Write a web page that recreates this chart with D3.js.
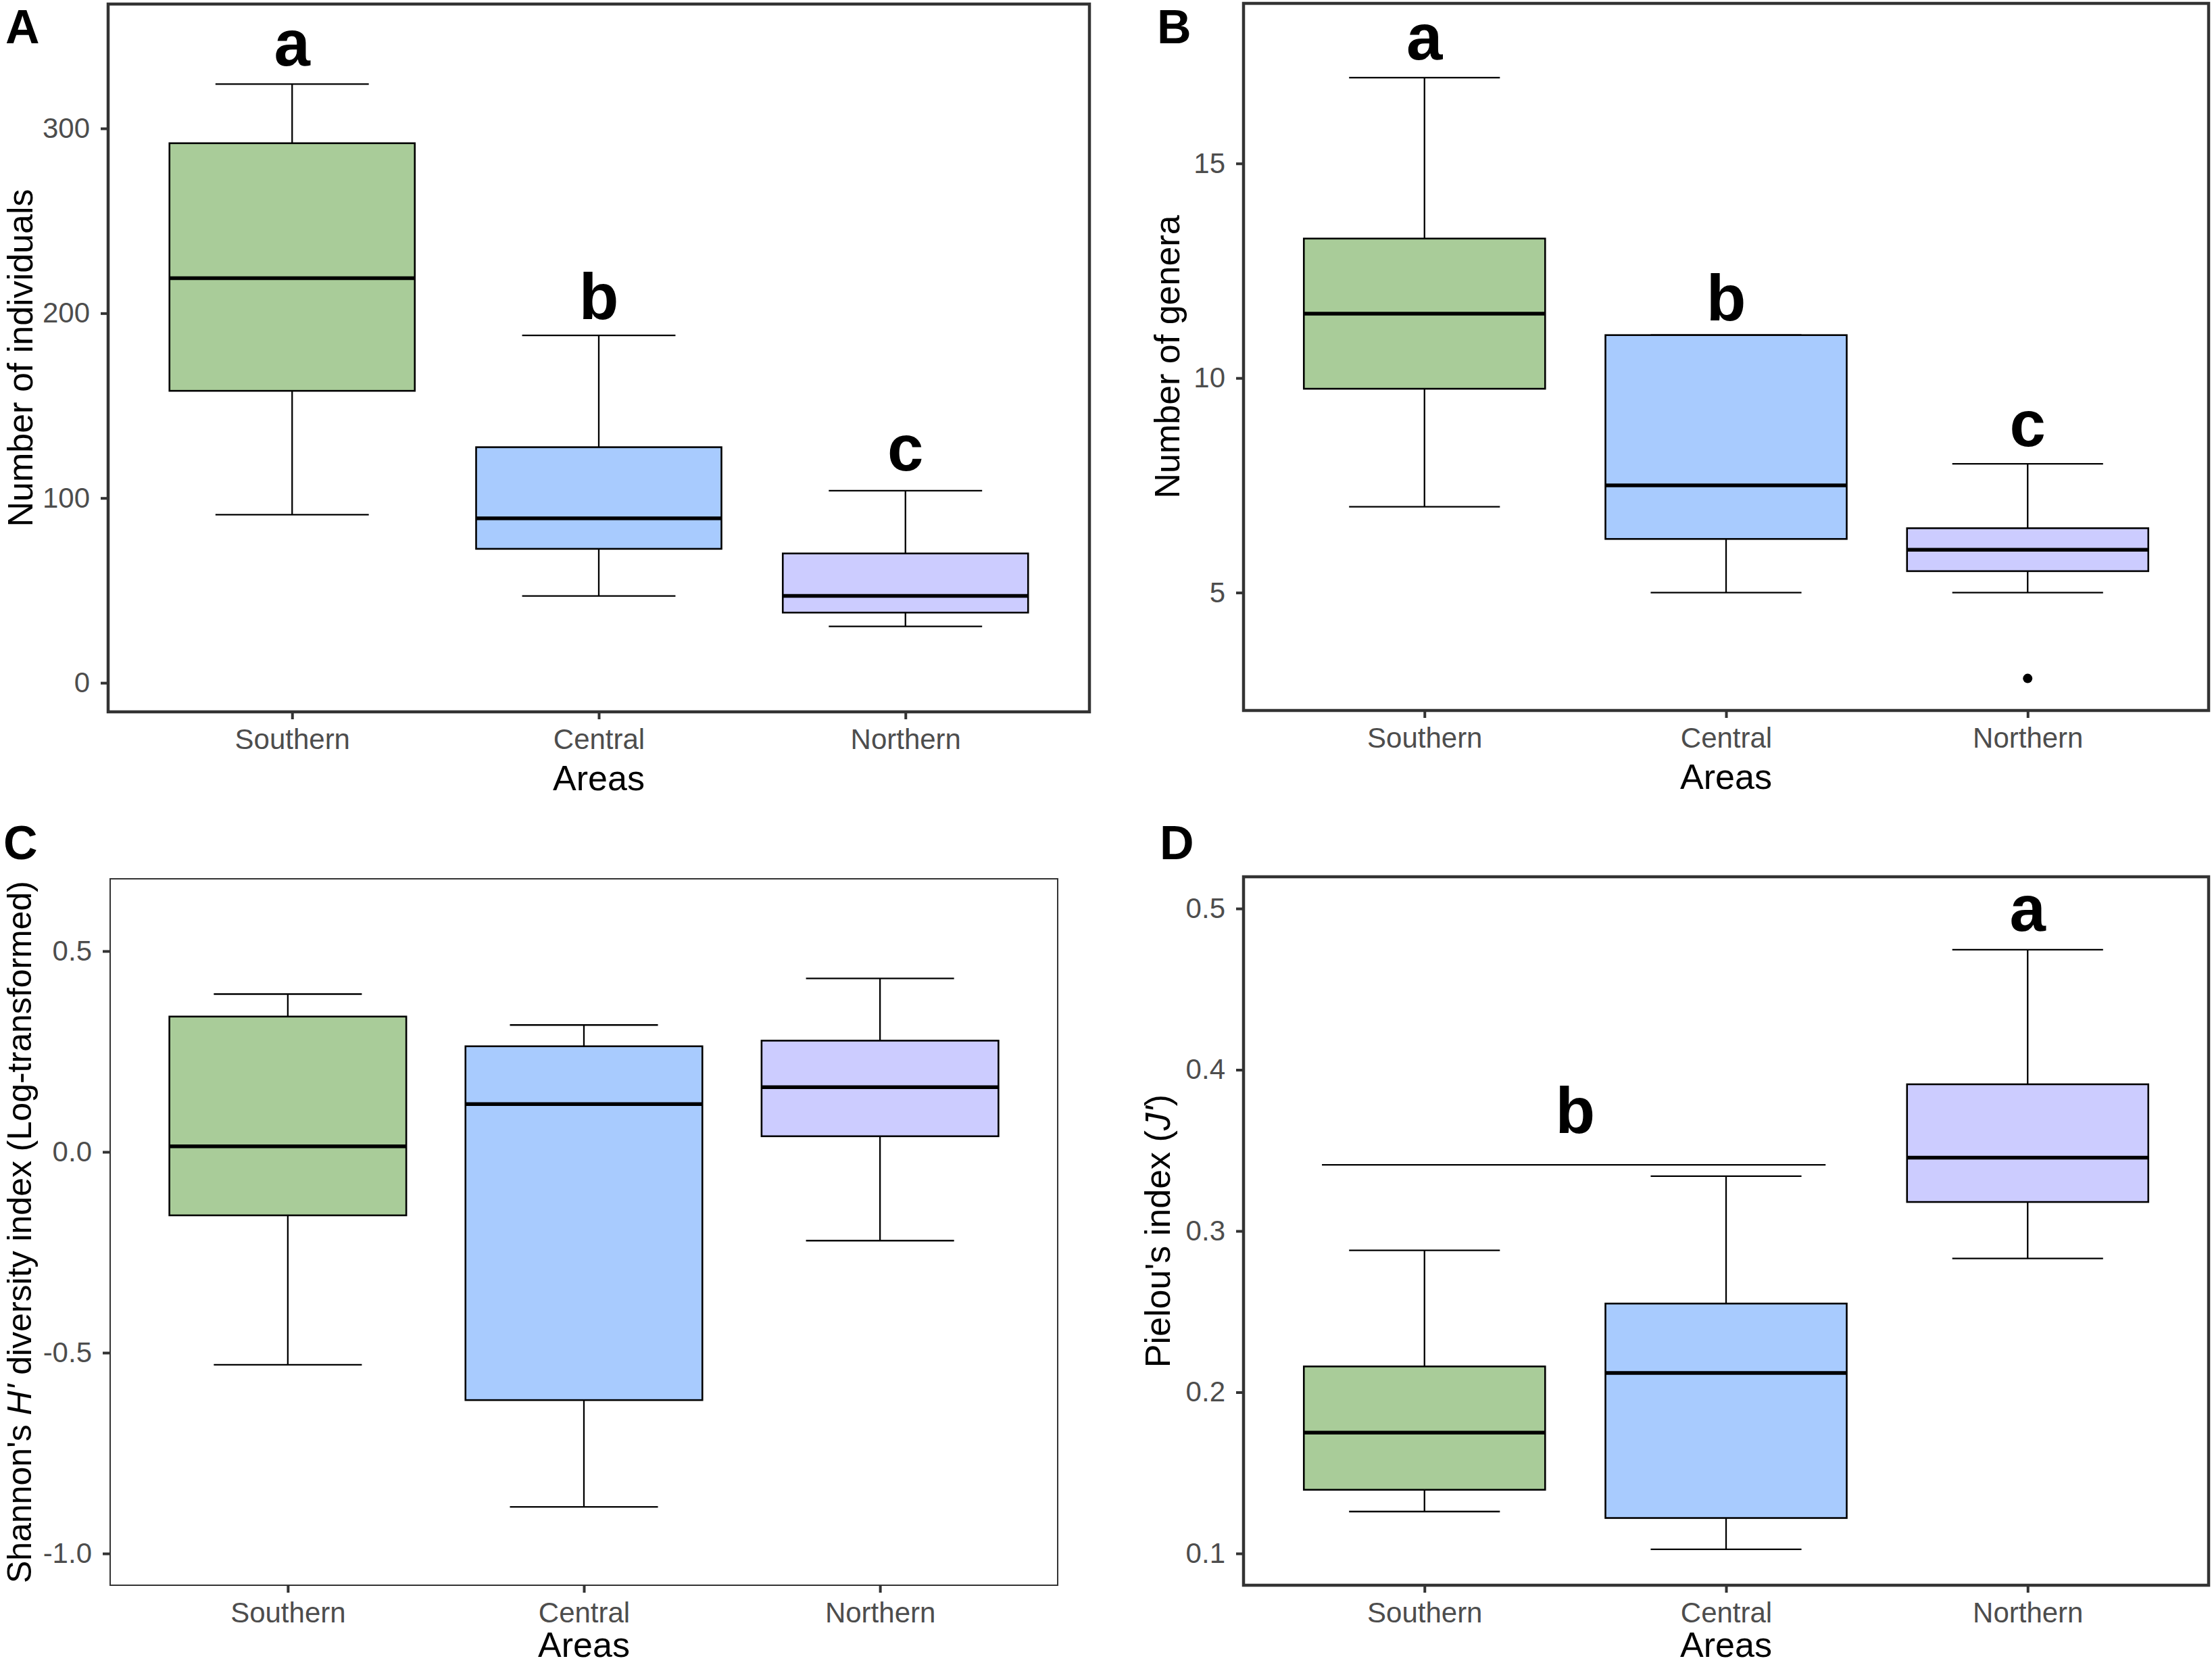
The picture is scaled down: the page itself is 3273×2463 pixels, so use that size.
<!DOCTYPE html>
<html><head><meta charset="utf-8">
<script src="https://cdn.jsdelivr.net/npm/d3@7"></script>
<style>html,body{margin:0;padding:0;background:#fff;} svg{display:block;}</style>
</head><body><svg id="chart" width="3273" height="2463"></svg>
<script>
// ---------------- DATA ----------------
const areas = ["Southern", "Central", "Northern"];

// box statistics: [lower whisker, Q1, median, Q3, upper whisker]
const individualsStats = [[91, 158, 219, 292, 324], [47, 72.5, 89, 127.5, 188], [30.5, 38, 47, 70, 104]];
const individualsOutliers = [[], [], []];
const individualsTicks = [0, 100, 200, 300];
const individualsTickLabels = ["0", "100", "200", "300"];
const individualsLetters = ["a", "b", "c"];
const individualsLetterX = [1, 2, 3];
const individualsLetterY = [334, 197, 115];

const generaStats = [[7, 9.75, 11.5, 13.25, 17], [5, 6.25, 7.5, 11, 11], [5, 5.5, 6, 6.5, 8]];
const generaOutliers = [[], [], [3]];
const generaTicks = [5, 10, 15];
const generaTickLabels = ["5", "10", "15"];
const generaLetters = ["a", "b", "c"];
const generaLetterX = [1, 2, 3];
const generaLetterY = [17.43, 11.34, 8.41];

const shannonStats = [[-0.53, -0.158, 0.014, 0.337, 0.393], [-0.884, -0.618, 0.119, 0.263, 0.316], [-0.221, 0.039, 0.161, 0.277, 0.432]];
const shannonOutliers = [[], [], []];
const shannonTicks = [-1.0, -0.5, 0.0, 0.5];
const shannonTickLabels = ["-1.0", "-0.5", "0.0", "0.5"];

const pielouStats = [[0.126, 0.1395, 0.175, 0.216, 0.288], [0.1026, 0.122, 0.212, 0.255, 0.334], [0.283, 0.318, 0.3455, 0.391, 0.4745]];
const pielouOutliers = [[], [], []];
const pielouTicks = [0.1, 0.2, 0.3, 0.4, 0.5];
const pielouTickLabels = ["0.1", "0.2", "0.3", "0.4", "0.5"];
const pielouLetters = ["b", "a"];
const pielouLetterX = [1.5, 3];
const pielouLetterY = [0.361, 0.486];
const pielouBracket = [0.66, 2.33, 0.341]; // x start, x end, y value

// ---------------- STYLE ----------------
const fillColors = ["#A9CC99", "#A8CBFE", "#CCCCFF"];
const FONT = "'Liberation Sans', Arial, Helvetica, sans-serif";

const svg = d3.select("#chart");
svg.append("rect").attr("width", 3273).attr("height", 2463).attr("fill", "#fff");

function drawPanel(cfg) {
  const g = svg.append("g");
  const x = d3.scaleLinear().domain([0.4, 3.6]).range([cfg.left, cfg.right]);
  const y = d3.scaleLinear().domain(cfg.yDomain).range([cfg.bottom, cfg.top]);
  const bw = 0.8, cw = 0.5;

  // whiskers (errorbar)
  cfg.stats.forEach((s, i) => {
    const c = i + 1;
    const wg = g.append("g").attr("stroke", "#000").attr("stroke-width", 2.3).attr("fill", "none");
    wg.append("line").attr("x1", x(c)).attr("x2", x(c)).attr("y1", y(s[0])).attr("y2", y(s[4]));
    wg.append("line").attr("x1", x(c - cw / 2)).attr("x2", x(c + cw / 2)).attr("y1", y(s[0])).attr("y2", y(s[0]));
    wg.append("line").attr("x1", x(c - cw / 2)).attr("x2", x(c + cw / 2)).attr("y1", y(s[4])).attr("y2", y(s[4]));
  });
  // boxes
  cfg.stats.forEach((s, i) => {
    const c = i + 1;
    g.append("rect")
      .attr("x", x(c - bw / 2)).attr("width", x(c + bw / 2) - x(c - bw / 2))
      .attr("y", y(s[3])).attr("height", y(s[1]) - y(s[3]))
      .attr("fill", fillColors[i]).attr("stroke", "#000").attr("stroke-width", 2.6);
    g.append("line")
      .attr("x1", x(c - bw / 2)).attr("x2", x(c + bw / 2))
      .attr("y1", y(s[2])).attr("y2", y(s[2]))
      .attr("stroke", "#000").attr("stroke-width", 5.5);
    cfg.outliers[i].forEach(v => {
      g.append("circle").attr("cx", x(c)).attr("cy", y(v)).attr("r", 7).attr("fill", "#000");
    });
  });
  // bracket
  if (cfg.bracket) {
    g.append("line")
      .attr("x1", x(cfg.bracket[0])).attr("x2", x(cfg.bracket[1]))
      .attr("y1", y(cfg.bracket[2])).attr("y2", y(cfg.bracket[2]))
      .attr("stroke", "#000").attr("stroke-width", 2.3);
  }
  // letters
  if (cfg.letters) {
    cfg.letters.forEach((t, i) => {
      g.append("text").attr("x", x(cfg.letterX[i])).attr("y", y(cfg.letterY[i]))
        .attr("text-anchor", "middle").attr("font-family", FONT).attr("font-weight", "bold")
        .attr("font-size", 96).attr("fill", "#000").text(t);
    });
  }
  // border
  g.append("rect").attr("x", cfg.left).attr("y", cfg.top)
    .attr("width", cfg.right - cfg.left).attr("height", cfg.bottom - cfg.top)
    .attr("fill", "none").attr("stroke", "#333").attr("stroke-width", cfg.border);

  // y axis
  const ya = g.append("g").attr("transform", `translate(${cfg.left},0)`)
    .call(d3.axisLeft(y).tickValues(cfg.ticks).tickFormat((d, i) => cfg.tickLabels[i]).tickSize(11).tickPadding(16));
  ya.select(".domain").remove();
  ya.selectAll(".tick line").attr("stroke", "#333").attr("stroke-width", 4);
  ya.selectAll(".tick text").attr("font-family", FONT).attr("font-size", 42).attr("fill", "#4D4D4D");
  ya.attr("font-family", null).attr("font-size", null);

  // x axis
  const xa = g.append("g").attr("transform", `translate(0,${cfg.bottom})`)
    .call(d3.axisBottom(x).tickValues([1, 2, 3]).tickFormat((d, i) => areas[i]).tickSize(11).tickPadding(14));
  xa.select(".domain").remove();
  xa.selectAll(".tick line").attr("stroke", "#333").attr("stroke-width", 4);
  xa.selectAll(".tick text").attr("font-family", FONT).attr("font-size", 42).attr("fill", "#4D4D4D");
  xa.attr("font-family", null).attr("font-size", null);

  // x title
  g.append("text").attr("x", (cfg.left + cfg.right) / 2).attr("y", cfg.bottom + cfg.xTitleOffset)
    .attr("text-anchor", "middle").attr("font-family", FONT).attr("font-size", 52).attr("fill", "#000")
    .text("Areas");

  // y title
  const yt = g.append("text")
    .attr("transform", `translate(${cfg.yTitleX},${(cfg.top + cfg.bottom) / 2}) rotate(-90)`)
    .attr("text-anchor", "middle").attr("font-family", FONT).attr("font-size", cfg.yTitleSize).attr("fill", "#000");
  cfg.yTitle.forEach(p => {
    yt.append("tspan").attr("font-style", p[1] ? "italic" : "normal").text(p[0]);
  });

  // panel tag
  svg.append("text").attr("x", cfg.tagX).attr("y", cfg.tagY)
    .attr("font-family", FONT).attr("font-weight", "bold").attr("font-size", 70).attr("fill", "#000")
    .text(cfg.tag);
}

drawPanel({
  tag: "A", tagX: 8, tagY: 64,
  left: 160, right: 1612, top: 6, bottom: 1053, yDomain: [-15.7, 367.3], border: 4.5,
  stats: individualsStats, outliers: individualsOutliers,
  ticks: individualsTicks, tickLabels: individualsTickLabels,
  letters: individualsLetters, letterX: individualsLetterX, letterY: individualsLetterY,
  xTitleOffset: 116,
  yTitleX: 48, yTitleSize: 52, yTitle: [["Number of individuals", false]]
});
drawPanel({
  tag: "B", tagX: 1712, tagY: 64,
  left: 1840, right: 3268, top: 5, bottom: 1051, yDomain: [2.253, 18.73], border: 4.5,
  stats: generaStats, outliers: generaOutliers,
  ticks: generaTicks, tickLabels: generaTickLabels,
  letters: generaLetters, letterX: generaLetterX, letterY: generaLetterY,
  xTitleOffset: 116,
  yTitleX: 1745, yTitleSize: 52, yTitle: [["Number of genera", false]]
});
drawPanel({
  tag: "C", tagX: 5, tagY: 1271,
  left: 163, right: 1565, top: 1300, bottom: 2345, yDomain: [-1.079, 0.680], border: 2,
  stats: shannonStats, outliers: shannonOutliers,
  ticks: shannonTicks, tickLabels: shannonTickLabels,
  xTitleOffset: 106,
  yTitleX: 46, yTitleSize: 50, yTitle: [["Shannon's ", false], ["H'", true], [" diversity index (Log-transformed)", false]]
});
drawPanel({
  tag: "D", tagX: 1716, tagY: 1271,
  left: 1840, right: 3268, top: 1297, bottom: 2345, yDomain: [0.0803, 0.5197], border: 4.5,
  stats: pielouStats, outliers: pielouOutliers,
  ticks: pielouTicks, tickLabels: pielouTickLabels,
  letters: pielouLetters, letterX: pielouLetterX, letterY: pielouLetterY, bracket: pielouBracket,
  xTitleOffset: 106,
  yTitleX: 1731, yTitleSize: 52, yTitle: [["Pielou's index (", false], ["J'", true], [")", false]]
});
</script>
</body></html>
